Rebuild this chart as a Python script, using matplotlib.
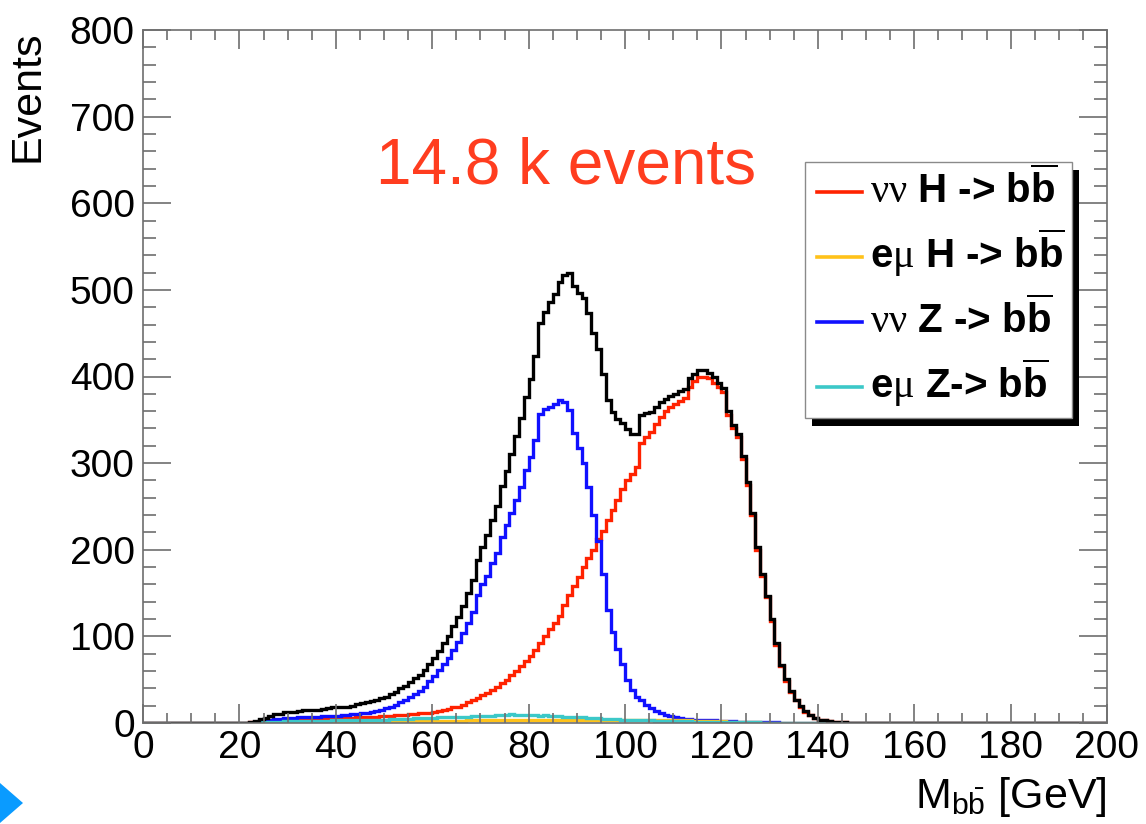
import numpy as np
import matplotlib
matplotlib.use("Agg")
import matplotlib.pyplot as plt
from matplotlib.patches import Rectangle, Polygon
from matplotlib.lines import Line2D
from matplotlib.ticker import MultipleLocator

plt.rcParams['font.family'] = ['Liberation Sans', 'DejaVu Sans']
plt.rcParams['mathtext.fontset'] = 'custom'
plt.rcParams['mathtext.rm'] = 'Liberation Serif'
plt.rcParams['mathtext.sf'] = 'Liberation Sans'
plt.rcParams['mathtext.bf'] = 'Liberation Sans:bold'
plt.rcParams['mathtext.it'] = 'Liberation Sans:italic'

# 1 GeV bins, values read for bins 20..149 (everything else is empty)
first_bin = 20
n_bins = 200

nunu_H = [0, 0.5, 1, 1, 2, 2, 3, 3, 3, 4,
          4, 4, 4, 5, 5, 5, 5, 5, 6, 6,
          6, 6, 6, 6, 7, 7, 7, 7, 7, 8,
          8, 8, 9, 9, 9, 10, 10, 11, 11, 12,
          13, 14, 15, 16, 18, 19, 21, 24, 26, 29,
          32, 35, 38, 42, 46, 50, 55, 60, 66, 71,
          77, 84, 92, 100, 108, 115, 124, 136, 148, 158,
          168, 180, 190, 200, 212, 222, 234, 246, 258, 270,
          281, 288, 296, 323, 330, 336, 345, 353, 360, 365,
          368, 372, 375, 388, 395, 400, 400, 398, 393, 388,
          382, 356, 340, 330, 305, 275, 240, 200, 170, 145,
          118, 90, 66, 49, 36, 26, 19, 13, 9, 6,
          4, 3, 2, 1.5, 1, 1, 0.5, 0.5, 0.5, 0]

emu_H = [0, 0, 0, 0, 0, 0, 0.5, 0.5, 0.5, 0.5,
         0.5, 0.5, 0.5, 1, 1, 1, 1, 1, 1, 1,
         1, 1, 1, 1, 1, 1.5, 1.5, 1.5, 1.5, 1.5,
         1.5, 1.5, 1.5, 2, 2, 2, 2, 2, 2, 2,
         2, 2, 2.5, 2.5, 2.5, 2.5, 2.5, 3, 3, 3,
         3, 3, 3, 3.5, 3.5, 3.5, 3.5, 4, 4, 4,
         4, 4, 4, 4, 4, 4, 4, 4, 4, 4,
         4, 4, 4, 4, 4, 4, 4, 4, 4, 4,
         4, 4, 4, 3.5, 3.5, 3.5, 3.5, 3, 3, 3,
         3, 3, 3, 3, 2.5, 2.5, 2.5, 2, 2, 2,
         2, 1.5, 1.5, 1.5, 1, 1, 1, 1, 0.5, 0.5,
         0.5, 0.5, 0.5, 0.5, 0.5, 0, 0, 0, 0, 0,
         0, 0, 0, 0, 0, 0, 0, 0, 0, 0]

nunu_Z = [0, 0, 0.5, 1, 2, 3, 4, 5, 5, 6,
          6, 6, 7, 7, 7, 7, 7, 8, 8, 8,
          8, 9, 9, 10, 10, 11, 12, 13, 14, 15,
          17, 19, 21, 24, 27, 30, 34, 37, 42, 48,
          54, 61, 68, 75, 84, 94, 104, 116, 128, 148,
          160, 170, 185, 196, 215, 228, 242, 258, 273, 292,
          307, 327, 357, 362, 365, 368, 373, 370, 361, 335,
          318, 300, 273, 240, 210, 172, 130, 105, 85, 68,
          50, 38, 30, 26, 21, 17, 14, 12, 9, 8,
          7, 6, 5, 5, 4, 4, 3, 3, 3, 2,
          2, 2, 2, 1, 1, 1, 1, 1, 1, 1,
          1, 1, 0.5, 0.5, 0.5, 0.5, 0.5, 0.5, 0, 0,
          0, 0, 0, 0, 0, 0, 0, 0, 0, 0]

emu_Z = [0, 0, 0, 0.5, 1, 1, 1, 1.5, 1.5, 2,
         2, 2, 2, 2, 2, 2.5, 2.5, 2.5, 2.5, 3,
         3, 3, 3, 3, 3.5, 3.5, 3.5, 4, 4, 4,
         4, 4.5, 4.5, 5, 5, 5, 5.5, 5.5, 6, 6,
         6, 6.5, 6.5, 7, 7, 7, 7.5, 7.5, 8, 8,
         8, 8.5, 8.5, 9, 9, 9.5, 10, 9.5, 9, 9.5,
         9, 9, 8.5, 9, 8.5, 8, 8, 7.5, 7, 7,
         6.5, 6.5, 6, 6, 5.5, 5, 5, 4.5, 4.5, 4,
         4, 3.5, 3.5, 3, 3, 3, 2.5, 2.5, 2.5, 2,
         2, 2, 2, 2, 1.5, 1.5, 1.5, 1.5, 1.5, 1,
         1, 1, 1, 1, 1, 1, 1, 1, 0.5, 0.5,
         0.5, 0.5, 0.5, 0.5, 0.5, 0.5, 0.5, 0.5, 0, 0,
         0, 0, 0, 0, 0, 0, 0, 0, 0, 0]

labels = [r"$\mathrm{\nu\nu}$ H -> b$\overline{\mathbf{b}}$",
          r"e$\mathrm{\mu}$ H -> b$\overline{\mathbf{b}}$",
          r"$\mathrm{\nu\nu}$ Z -> b$\overline{\mathbf{b}}$",
          r"e$\mathrm{\mu}$ Z-> b$\overline{\mathbf{b}}$"]
colors = ["#ff2200", "#ffc21a", "#1010ff", "#3cc8c8"]


def full(vals):
    out = np.zeros(n_bins)
    out[first_bin:first_bin + len(vals)] = vals
    return out


edges = np.arange(0, n_bins + 1, 1)
series = [full(nunu_H), full(emu_H), full(nunu_Z), full(emu_Z)]
total = np.sum(series, axis=0)

W, H = 1146, 824
fig = plt.figure(figsize=(W / 100, H / 100), dpi=100)
ax = fig.add_axes([143 / W, 1 - 723 / H, (1107 - 143) / W, (723 - 30) / H])

# draw order: red, blue, yellow, cyan, then the total on top
for i in [0, 2, 1, 3]:
    ax.stairs(series[i], edges, color=colors[i], lw=2.4)
ax.stairs(total, edges, color="black", lw=2.4)

ax.set_xlim(0, 200)
ax.set_ylim(0, 800)
ax.xaxis.set_major_locator(MultipleLocator(20))
ax.xaxis.set_minor_locator(MultipleLocator(5))
ax.yaxis.set_major_locator(MultipleLocator(100))
ax.yaxis.set_minor_locator(MultipleLocator(20))
gray = "#6e6e6e"
ax.tick_params(which="both", direction="in", top=True, right=True, colors=gray,
               labelcolor="black", width=1.2, labelsize=28)
ax.tick_params(axis="x", which="major", length=13.5, pad=5)
ax.tick_params(axis="x", which="minor", length=7)
ax.tick_params(axis="y", which="major", length=20, pad=6)
ax.tick_params(axis="y", which="minor", length=9.5)
for s in ax.spines.values():
    s.set_color(gray)
    s.set_linewidth(1.2)

ax.set_ylabel("Events", fontsize=31, ha="right")
ax.yaxis.set_label_coords(-0.099, 1.0)
ax.set_xlabel(r"M$_{\mathsf{b\bar{b}}}$ [GeV]", fontsize=31, ha="right", va="top")
ax.xaxis.set_label_coords(1.0, -0.075)

fig.text(376 / W, 1 - 183 / H, "14.8 k events", fontsize=46, color="#ff3d1f",
         ha="left", va="baseline")

# legend box with ROOT-style black shadow
bx0, by0, bx1, by1 = 805, 162, 1072, 418
fig.patches.append(Rectangle((bx0 / W + 7 / W, 1 - (by1 + 8) / H), (bx1 - bx0) / W,
                             (by1 - by0) / H, transform=fig.transFigure,
                             facecolor="black", edgecolor="none", zorder=5))
fig.patches.append(Rectangle((bx0 / W, 1 - by1 / H), (bx1 - bx0) / W, (by1 - by0) / H,
                             transform=fig.transFigure, facecolor="white",
                             edgecolor="#8a8a8a", lw=1.0, zorder=6))
for k, (lab, col) in enumerate(zip(labels, colors)):
    yb = 203 + 65 * k
    fig.lines.append(Line2D([817 / W, 862 / W], [1 - (yb - 11) / H] * 2,
                            transform=fig.transFigure, color=col, lw=2.6, zorder=7))
    fig.text(870 / W, 1 - yb / H, lab, fontsize=29, fontweight="bold",
             ha="left", va="baseline", zorder=8)

# blue slide marker in the lower left corner
fig.patches.append(Polygon([(0, 1 - 783 / H), (23 / W, 1 - 803 / H), (0, 1 - 823 / H)],
                           closed=True, transform=fig.transFigure,
                           facecolor="#0a9bff", edgecolor="none"))

fig.savefig("out.png", dpi=100)
